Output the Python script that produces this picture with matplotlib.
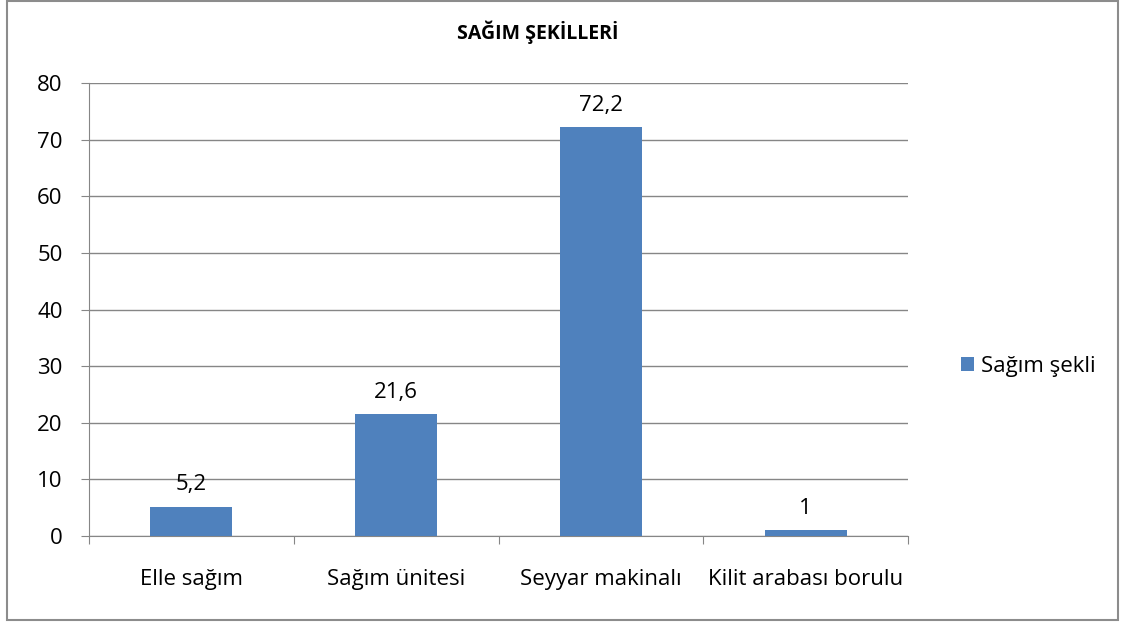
import matplotlib
matplotlib.use("Agg")
import matplotlib.pyplot as plt
from matplotlib.patches import Rectangle

categories = ["Elle sağım", "Sağım ünitesi", "Seyyar makinalı", "Kilit arabası borulu"]
values = [5.2, 21.6, 72.2, 1]
labels = ["5,2", "21,6", "72,2", "1"]
series_name = "Sağım şekli"
title = "SAĞIM ŞEKİLLERİ"
yticks = [0, 10, 20, 30, 40, 50, 60, 70, 80]

plt.rcParams['font.family'] = ['Open Sans', 'DejaVu Sans']
FS = 16
W, H = 1129, 625
fig = plt.figure(figsize=(W / 100, H / 100), dpi=100)

# outer border
fig.patches.append(Rectangle((7 / W, 1 - 620 / H), (1118 - 7) / W, (620 - 1) / H,
                             transform=fig.transFigure, fill=False,
                             edgecolor="#8c8c8c", linewidth=1.5))

ax = fig.add_axes([89 / W, 1 - 536 / H, (908 - 89) / W, (536 - 83) / H])
x = list(range(len(categories)))
bars = ax.bar(x, values, width=0.4, color="#4F81BD", zorder=3, label=series_name)
ax.set_xlim(-0.5, len(categories) - 0.5)
ax.set_ylim(0, 80)
ax.set_yticks(yticks)
ax.set_yticklabels([str(t) for t in yticks], fontsize=FS)
ax.grid(axis="y", color="#868686", linewidth=1, zorder=0)
for s in ["top", "right"]:
    ax.spines[s].set_visible(False)
ax.spines["left"].set_color("#868686")
ax.spines["bottom"].set_color("#868686")
ax.tick_params(axis="y", length=6, color="#868686", pad=13)
# category labels, with tick marks between categories
ax.set_xticks([i - 0.5 for i in range(len(categories) + 1)], minor=False)
ax.set_xticklabels([])
ax.tick_params(axis="x", which="major", length=6, color="#868686")
ax.set_xticks(x, minor=True)
ax.set_xticklabels(categories, minor=True, fontsize=FS)
ax.tick_params(axis="x", which="minor", length=0, pad=24)

for b, lab in zip(bars, labels):
    ax.annotate(lab, (b.get_x() + b.get_width() / 2, b.get_height()),
                xytext=(0, 8), textcoords="offset points",
                ha="center", va="bottom", fontsize=FS)

fig.text(538 / W, 1 - 32 / H, title, ha="center", va="center",
         fontsize=14, fontweight="bold")

ax.legend(loc="center left", bbox_to_anchor=(1.04, 0.375), frameon=False,
          fontsize=FS, handlelength=0.6, handleheight=0.6, handletextpad=0.3)

fig.savefig("out.png", dpi=100)
